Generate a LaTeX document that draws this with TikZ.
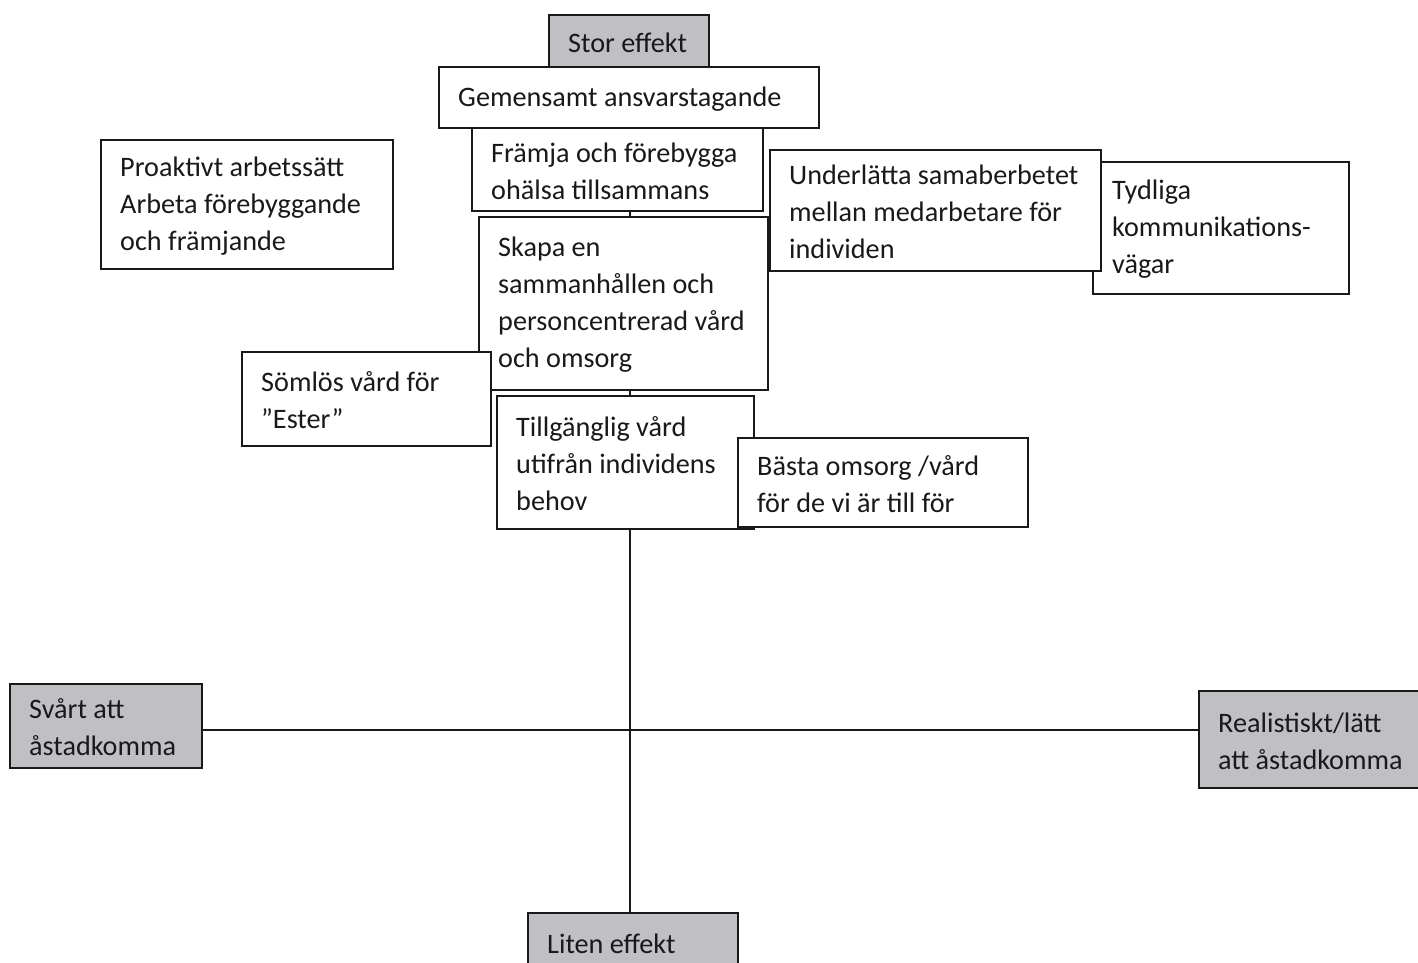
\documentclass[tikz,border=0pt]{standalone}
\usepackage{fontspec}
\setmainfont{Carlito}
\usetikzlibrary{backgrounds}
\definecolor{boxgray}{RGB}{192,192,194}
\definecolor{ink}{RGB}{25,25,28}
\tikzset{
  box/.style={draw=ink, line width=1.8pt, fill=white, inner sep=0pt, anchor=north west},
  graybox/.style={box, fill=boxgray},
  lbl/.style={anchor=west, inner xsep=20pt, inner ysep=0pt, align=left, text=ink,
    font=\fontsize{28.2}{37}\selectfont},
  axis/.style={draw=ink, line width=1.3pt}
}
\newcommand{\Bx}[7]{%
  \node[#6, minimum width={(#4-#2)*1pt}, minimum height={(#5-#3)*1pt}] (#1) at (#2,#3) {};
  \node[lbl] (#1t) at ([yshift=-1.5pt]#1.west) {#7};
}
\begin{document}
\begin{tikzpicture}[x=1pt,y=-1pt]
\useasboundingbox (0,0) rectangle (1418,962);
\Bx{stor}{548}{14}{708}{66}{graybox}{Stor effekt}
\Bx{gem}{438}{66}{818}{127}{box}{Gemensamt ansvarstagande}
\Bx{framja}{471}{127}{762}{210}{box}{Främja och förebygga\\ohälsa tillsammans}
\Bx{proakt}{100}{139}{392}{268}{box}{Proaktivt arbetssätt\\Arbeta förebyggande\\och främjande}
\Bx{tydl}{1092}{161}{1348}{293}{box}{Tydliga\\kommunikations-\\vägar}
\Bx{underl}{769}{149}{1100}{270}{box}{Underlätta samaberbetet\\mellan medarbetare för\\individen}
\Bx{skapa}{478}{216}{767}{389}{box}{Skapa en\\sammanhållen och\\personcentrerad vård\\och omsorg}
\Bx{somlos}{241}{351}{490}{445}{box}{Sömlös vård för\\”Ester”}
\Bx{tillg}{496}{395}{753}{528}{box}{Tillgänglig vård\\utifrån individens\\behov}
\Bx{basta}{737}{437}{1027}{526}{box}{Bästa omsorg /vård\\för de vi är till för}
\Bx{svart}{9}{683}{201}{767}{graybox}{Svårt att\\åstadkomma}
\Bx{real}{1198}{690}{1424}{787}{graybox}{Realistiskt/lätt\\att åstadkomma}
\Bx{liten}{527}{912}{737}{970}{graybox}{Liten effekt}
\coordinate (hl) at (0,730);
\coordinate (vl) at (630,0);
\begin{scope}[on background layer]
\draw[axis] (stor.south -| vl) -- (liten.north -| vl);
\draw[axis] (svart.east |- hl) -- (real.west |- hl);
\end{scope}
\end{tikzpicture}
\end{document}
